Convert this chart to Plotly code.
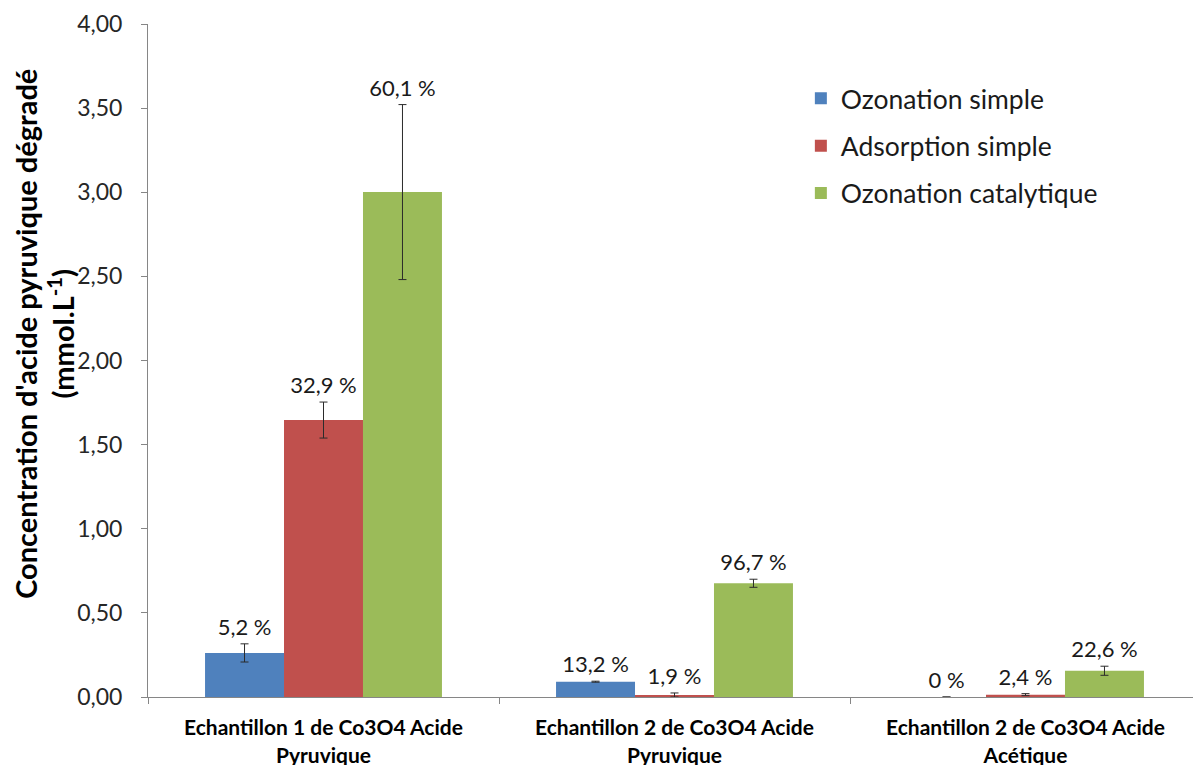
import plotly.graph_objects as go

categories = [
    "Echantillon 1 de Co3O4 Acide<br>Pyruvique",
    "Echantillon 2 de Co3O4 Acide<br>Pyruvique",
    "Echantillon 2 de Co3O4 Acide<br>Acétique",
]
series_names = ["Ozonation simple", "Adsorption simple", "Ozonation catalytique"]
ozonation_simple = [0.262, 0.091, 0.0]
adsorption_simple = [1.646, 0.012, 0.014]
ozonation_catalytique = [3.001, 0.676, 0.156]
err_ozonation_simple = [0.054, 0.003, None]
err_adsorption_simple = [0.107, 0.012, 0.006]
err_ozonation_catalytique = [0.52, 0.024, 0.027]
lbl_ozonation_simple = ["5,2 %", "13,2 %", "0 %"]
lbl_adsorption_simple = ["32,9 %", "1,9 %", "2,4 %"]
lbl_ozonation_catalytique = ["60,1 %", "96,7 %", "22,6 %"]

values = [ozonation_simple, adsorption_simple, ozonation_catalytique]
errors = [err_ozonation_simple, err_adsorption_simple, err_ozonation_catalytique]
labels = [lbl_ozonation_simple, lbl_adsorption_simple, lbl_ozonation_catalytique]
colors = ["#4F81BD", "#C0504D", "#9BBB59"]

FONT = "Lato, 'Open Sans', sans-serif"

fig = go.Figure()
for i in range(3):
    fig.add_trace(go.Bar(
        x=categories, y=values[i], name=series_names[i],
        marker=dict(color=colors[i], line=dict(width=0)),
        error_y=dict(type="data", array=[e if e is not None else float("nan") for e in errors[i]],
                     visible=True, color="#2b2b2b", thickness=1, width=4),
        offsetgroup=str(i), legendgroup=str(i),
    ))
for i in range(3):
    tops = [v + (e or 0) for v, e in zip(values[i], errors[i])]
    fig.add_trace(go.Scatter(
        x=categories, y=tops, text=labels[i], mode="text+markers",
        marker=dict(size=4, opacity=0),
        textposition="top center",
        textfont=dict(size=22, color="#1a1a1a", family=FONT),
        offsetgroup=str(i), showlegend=False, hoverinfo="skip",
    ))

fig.update_layout(
    width=1193, height=757,
    margin=dict(l=140, r=0, t=16, b=68),
    paper_bgcolor="white", plot_bgcolor="white",
    barmode="group", bargap=0.325, bargroupgap=0,
    scattermode="group", scattergap=0.325,
    separators=", ",
    font=dict(family=FONT, color="#1a1a1a"),
    legend=dict(x=0.62, y=0.925, xanchor="left", yanchor="top",
                font=dict(size=26.5, family=FONT, color="#1a1a1a"),
                traceorder="grouped", tracegroupgap=10,
                bgcolor="rgba(0,0,0,0)"),
    showlegend=True,
)
fig.update_yaxes(
    range=[0, 4], dtick=0.5, tickformat=".2f",
    showgrid=False, zeroline=False, automargin=False,
    showline=True, linecolor="#868686", linewidth=1,
    ticks="outside", ticklen=6, tickcolor="#868686",
    ticklabelstandoff=14,
    tickfont=dict(size=23, color="#262626", family=FONT),
)
fig.update_xaxes(
    showgrid=False, showline=True, linecolor="#868686", linewidth=1,
    ticks="outside", ticklen=6, tickcolor="#868686", tickson="boundaries",
    ticklabelstandoff=12, automargin=False,
    tickfont=dict(size=21, color="#000000", family=FONT, weight="bold"),
    range=[-0.5, 2.5],
)
fig.add_annotation(
    text="<b>Concentration d'acide pyruvique dégradé</b><br><b>(mmol.L<sup>-1</sup>)</b>",
    xref="paper", yref="paper", x=-0.0985, y=0.54,
    xanchor="center", yanchor="middle", textangle=-90, showarrow=False,
    font=dict(size=29, color="#000000", family=FONT),
)
fig.write_html("out.html")
